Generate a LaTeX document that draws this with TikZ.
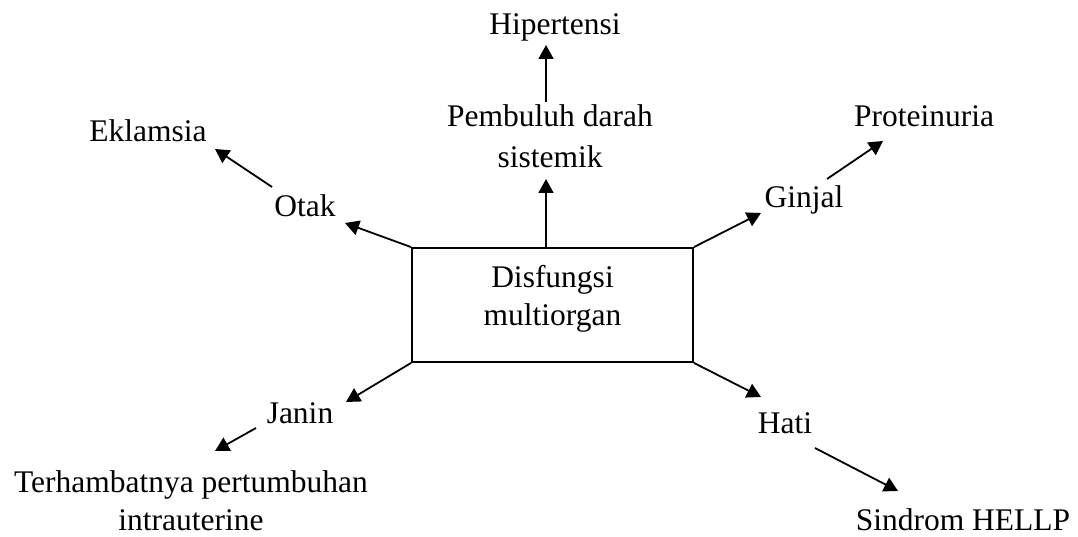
\documentclass[tikz,border=0pt]{standalone}
\usepackage{fontspec}
\setmainfont{Liberation Serif}
\usetikzlibrary{arrows.meta}
\begin{document}
\begin{tikzpicture}[x=1pt,y=-1pt,
  lbl/.style={anchor=base, inner sep=0pt, align=center, font=\fontsize{31.5}{38}\selectfont},
  arr/.style={line width=1.8pt, -{Triangle[length=14pt,width=15pt]}},
  boxst/.style={draw, line width=1.8pt, minimum width=281pt, minimum height=114pt, inner sep=0pt, text depth=19pt, align=center, font=\fontsize{31.5}{38}\selectfont}]
\useasboundingbox (0,0) rectangle (1078,537);
% central box
\node[boxst] (box) at (552.5,305) {Disfungsi\\multiorgan};
% labels (base anchor = baseline of last line)
\node[lbl] (hip) at (555,35) {Hipertensi};
\node[lbl, font=\fontsize{31.5}{41}\selectfont] (pemb) at (550,168) {Pembuluh darah\\sistemik};
\node[lbl] (ekl) at (148,142) {Eklamsia};
\node[lbl] (otak) at (305,217) {Otak};
\node[lbl] (prot) at (924,127) {Proteinuria};
\node[lbl] (ginjal) at (804,208) {Ginjal};
\node[lbl] (janin) at (300,423) {Janin};
\node[lbl] (hati) at (785,433) {Hati};
\node[lbl] (terh) at (191,530) {Terhambatnya pertumbuhan\\intrauterine};
\node[lbl] (hellp) at (963,530) {Sindrom HELLP};
% arrow end points
\coordinate (bt) at (546,248);
\coordinate (pembIn) at (546,179);
\coordinate (pembOut) at (546,102);
\coordinate (hipIn) at (546,45);
\coordinate (otakIn) at (345,223);
\coordinate (otakOut) at (272,187);
\coordinate (eklIn) at (215,149);
\coordinate (ginjalIn) at (761,213);
\coordinate (ginjalOut) at (827,179);
\coordinate (protIn) at (883,141);
\coordinate (janinIn) at (346,402);
\coordinate (janinOut) at (256,428);
\coordinate (terhIn) at (215,451);
\coordinate (hatiIn) at (761,397);
\coordinate (hatiOut) at (815,448);
\coordinate (hellpIn) at (898,491);
% connectors
\draw[arr] (bt) -- (pembIn);
\draw[arr] (pembOut) -- (hipIn);
\draw[arr] (box.north west) -- (otakIn);
\draw[arr] (otakOut) -- (eklIn);
\draw[arr] (box.north east) -- (ginjalIn);
\draw[arr] (ginjalOut) -- (protIn);
\draw[arr] (box.south west) -- (janinIn);
\draw[arr] (janinOut) -- (terhIn);
\draw[arr] (box.south east) -- (hatiIn);
\draw[arr] (hatiOut) -- (hellpIn);
\end{tikzpicture}
\end{document}
